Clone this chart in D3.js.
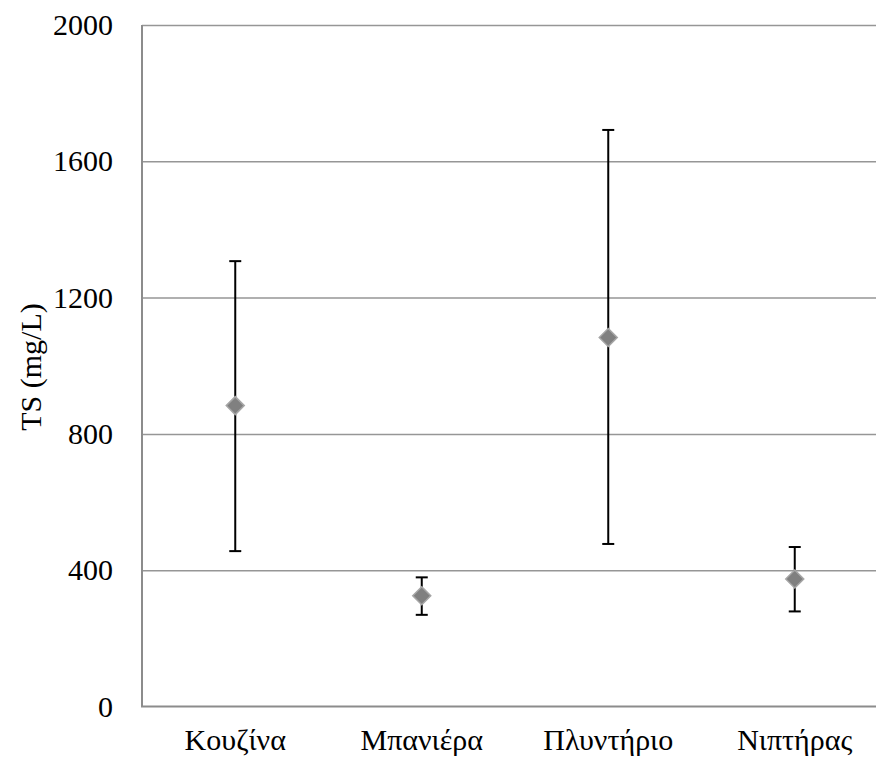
<!DOCTYPE html>
<html>
<head>
<meta charset="utf-8">
<script src="https://cdn.jsdelivr.net/npm/d3@7"></script>
<style>
  html, body { margin: 0; padding: 0; background: #fff; }
  svg text { font-family: "Liberation Serif", "Times New Roman", Times, "DejaVu Serif", serif; }
</style>
</head>
<body>
<div id="chart"></div>
<script>
const categories = ['Κουζίνα', 'Μπανιέρα', 'Πλυντήριο', 'Νιπτήρας'];
const means = [883, 325, 1083, 374];
const upper = [1307, 379, 1692, 468];
const lower = [456, 269, 477, 279];
const yTicks = [0, 400, 800, 1200, 1600, 2000];

const width = 876;
const height = 763;
const margin = { top: 25, right: -12, bottom: 56.5, left: 142 };

const svg = d3.select('#chart')
  .append('svg')
  .attr('width', width)
  .attr('height', height);

const x = d3.scaleBand()
  .domain(categories)
  .range([margin.left, width - margin.right])
  .padding(0);

const y = d3.scaleLinear()
  .domain([0, 2000])
  .range([height - margin.bottom, margin.top]);

const cx = d => x(d) + x.bandwidth() / 2;

// gridlines
svg.append('g')
  .attr('transform', `translate(${margin.left},0)`)
  .call(d3.axisLeft(y).tickValues(yTicks.filter(t => t > 0)).tickSize(-(width - margin.right - margin.left)).tickFormat(''))
  .call(g => g.select('.domain').remove())
  .call(g => g.selectAll('line').attr('stroke', '#969696').attr('stroke-width', 1.5));

// y axis labels
svg.append('g')
  .attr('transform', `translate(${margin.left},0)`)
  .call(d3.axisLeft(y).tickValues(yTicks).tickFormat(d3.format('d')).tickSize(0).tickPadding(29))
  .call(g => g.select('.domain').remove())
  .call(g => g.selectAll('text').attr('font-size', 30).attr('fill', '#000'));

// x axis labels
svg.append('g')
  .attr('transform', `translate(0,${y(0)})`)
  .call(d3.axisBottom(x).tickSize(0).tickPadding(22))
  .call(g => g.select('.domain').remove())
  .call(g => g.selectAll('text').attr('font-size', 30).attr('fill', '#000'));

// axis lines
svg.append('line')
  .attr('x1', margin.left).attr('x2', margin.left)
  .attr('y1', y(2000)).attr('y2', y(0))
  .attr('stroke', '#8c8c8c').attr('stroke-width', 2);
svg.append('line')
  .attr('x1', margin.left - 1).attr('x2', width)
  .attr('y1', y(0)).attr('y2', y(0))
  .attr('stroke', '#8c8c8c').attr('stroke-width', 2);

// error bars
const bars = svg.append('g').attr('stroke', '#000').attr('stroke-width', 2);
categories.forEach((c, i) => {
  bars.append('line')
    .attr('x1', cx(c)).attr('x2', cx(c))
    .attr('y1', y(lower[i])).attr('y2', y(upper[i]));
  bars.append('line')
    .attr('x1', cx(c) - 6).attr('x2', cx(c) + 6)
    .attr('y1', y(lower[i])).attr('y2', y(lower[i]));
  bars.append('line')
    .attr('x1', cx(c) - 6).attr('x2', cx(c) + 6)
    .attr('y1', y(upper[i])).attr('y2', y(upper[i]));
});

// markers
svg.append('g')
  .selectAll('path')
  .data(categories)
  .enter()
  .append('path')
  .attr('d', 'M0,-9L9,0L0,9L-9,0Z')
  .attr('transform', (d, i) => `translate(${cx(d)},${y(means[i])})`)
  .attr('fill', '#808080')
  .attr('stroke', '#a6a6a6')
  .attr('stroke-width', 1.5);

// y title
svg.append('text')
  .attr('transform', `translate(41,367) rotate(-90)`)
  .attr('text-anchor', 'middle')
  .attr('font-size', 30)
  .attr('fill', '#000')
  .text('TS (mg/L)');
</script>
</body>
</html>
